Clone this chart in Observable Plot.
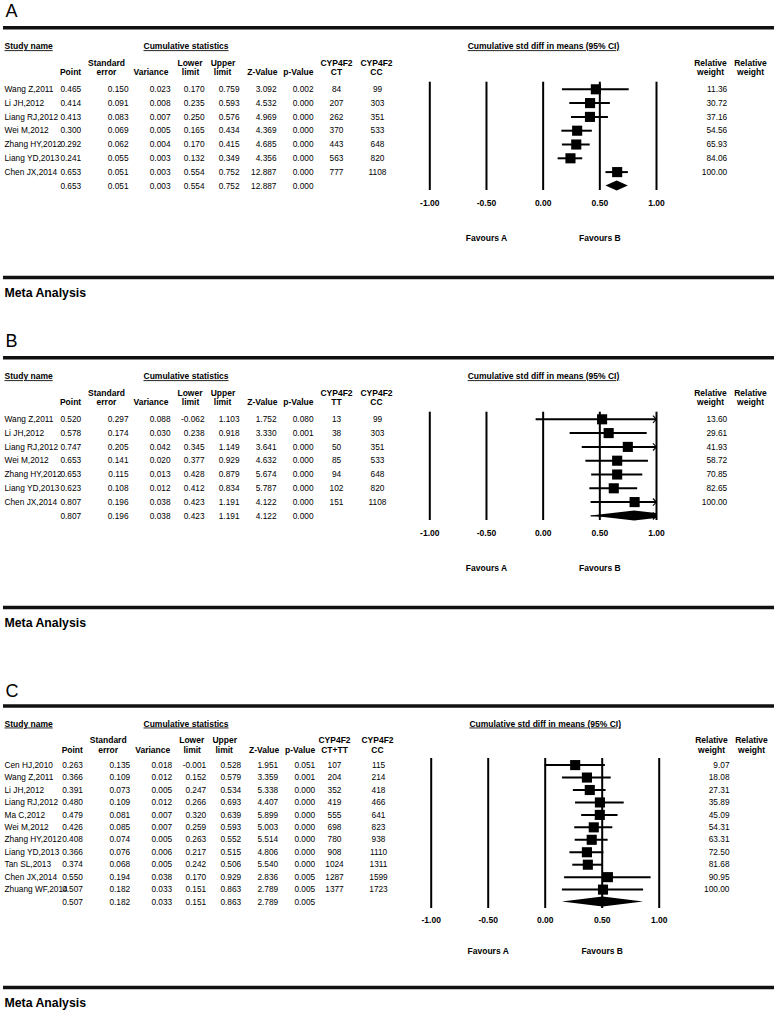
<!DOCTYPE html>
<html><head><meta charset="utf-8">
<script src="https://cdn.jsdelivr.net/npm/d3@7"></script>
<script src="https://cdn.jsdelivr.net/npm/@observablehq/plot@0.6"></script>
<style>
body{margin:0;background:#fff;}
#chart svg{display:block;}
</style></head><body><div id="chart"></div>
<script>
// ---------- DATA ----------
const studiesAB = ["Wang Z,2011","Li JH,2012","Liang RJ,2012","Wei M,2012","Zhang HY,2012","Liang YD,2013","Chen JX,2014"];

const pointA = [0.465,0.414,0.413,0.300,0.292,0.241,0.653];
const seA = [0.150,0.091,0.083,0.069,0.062,0.055,0.051];
const varA = [0.023,0.008,0.007,0.005,0.004,0.003,0.003];
const lowerA = [0.170,0.235,0.250,0.165,0.170,0.132,0.554];
const upperA = [0.759,0.593,0.576,0.434,0.415,0.349,0.752];
const zA = [3.092,4.532,4.969,4.369,4.685,4.356,12.887];
const pA = [0.002,0.000,0.000,0.000,0.000,0.000,0.000];
const ctA = [84,207,262,370,443,563,777];
const ccA = [99,303,351,533,648,820,1108];
const weightA = [11.36,30.72,37.16,54.56,65.93,84.06,100.00];
const summaryA = [0.653,0.051,0.003,0.554,0.752,12.887,0.000];

const pointB = [0.520,0.578,0.747,0.653,0.653,0.623,0.807];
const seB = [0.297,0.174,0.205,0.141,0.115,0.108,0.196];
const varB = [0.088,0.030,0.042,0.020,0.013,0.012,0.038];
const lowerB = [-0.062,0.238,0.345,0.377,0.428,0.412,0.423];
const upperB = [1.103,0.918,1.149,0.929,0.879,0.834,1.191];
const zB = [1.752,3.330,3.641,4.632,5.674,5.787,4.122];
const pB = [0.080,0.001,0.000,0.000,0.000,0.000,0.000];
const ttB = [13,38,50,85,94,102,151];
const ccB = [99,303,351,533,648,820,1108];
const weightB = [13.60,29.61,41.93,58.72,70.85,82.65,100.00];
const summaryB = [0.807,0.196,0.038,0.423,1.191,4.122,0.000];

const studiesC = ["Cen HJ,2010","Wang Z,2011","Li JH,2012","Liang RJ,2012","Ma C,2012","Wei M,2012","Zhang HY,2012","Liang YD,2013","Tan SL,2013","Chen JX,2014","Zhuang WF,2014"];
const pointC = [0.263,0.366,0.391,0.480,0.479,0.426,0.408,0.366,0.374,0.550,0.507];
const seC = [0.135,0.109,0.073,0.109,0.081,0.085,0.074,0.076,0.068,0.194,0.182];
const varC = [0.018,0.012,0.005,0.012,0.007,0.007,0.005,0.006,0.005,0.038,0.033];
const lowerC = [-0.001,0.152,0.247,0.266,0.320,0.259,0.263,0.217,0.242,0.170,0.151];
const upperC = [0.528,0.579,0.534,0.693,0.639,0.593,0.552,0.515,0.506,0.929,0.863];
const zC = [1.951,3.359,5.338,4.407,5.899,5.003,5.514,4.806,5.540,2.836,2.789];
const pC = [0.051,0.001,0.000,0.000,0.000,0.000,0.000,0.000,0.000,0.005,0.005];
const ctttC = [107,204,352,419,555,698,780,908,1024,1287,1377];
const ccC = [115,214,418,466,641,823,938,1110,1311,1599,1723];
const weightC = [9.07,18.08,27.31,35.89,45.09,54.31,63.31,72.50,81.68,90.95,100.00];
const summaryC = [0.507,0.182,0.033,0.151,0.863,2.789,0.005];

const axisTicks = [-1, -0.5, 0, 0.5, 1];
const favours = [{label: "Favours A", x: -0.5}, {label: "Favours B", x: 0.5}];

// ---------- LAYOUT ----------
const FONT = "'Liberation Sans', Arial, Helvetica, sans-serif";
const FS = 8.3;
const FSB = 8.5;
const layoutAB = {height:330, letterY:11, ruleY:27.3, headY:46, h1Y:62.3, h2Y:71.7, row0:88.8, rowStep:13.8,
  lineTop:81.7, lineBottom:190, tickY:203, favY:238, metaRuleY:277, metaY:293,
  xLeft:429.3, xRight:656, colShift:0, ctX:336, ccX:377, weightX:726.7, relX1:710, relX2:750, forestHeadX:543};
const layoutC = {height:351, letterY:30.5, ruleY:45.5, headY:63.3, h1Y:79.3, h2Y:89.3, row0:104.6, rowStep:12.45,
  lineTop:98, lineBottom:248, tickY:260, favY:290.7, metaRuleY:327, metaY:343,
  xLeft:430.7, xRight:658.7, colShift:1.7, ctX:334, ccX:378, weightX:729, relX1:711, relX2:751, forestHeadX:544.7};

const chevron = {draw(ctx, size) { const s = Math.sqrt(size / Math.PI); ctx.moveTo(-s, -s); ctx.lineTo(0, 0); ctx.lineTo(-s, s); }};

function panel(d, L) {
  const px = p => -1 + 2 * (p - L.xLeft) / (L.xRight - L.xLeft);
  const py = p => (p - L.row0) / L.rowStep;
  const n = d.names.length;
  const rows = d.names.map((name, i) => ({row: i, name, point: d.point[i], se: d.se[i], variance: d.variance[i],
    lower: d.lower[i], upper: d.upper[i], z: d.z[i], p: d.p[i], n1: d.n1[i], n2: d.n2[i], weight: d.weight[i]}));
  const s = d.summary;
  const sumRow = {row: n, name: "", point: s[0], se: s[1], variance: s[2], lower: s[3], upper: s[4], z: s[5], p: s[6], n1: null, n2: null, weight: null};
  const table = [...rows, sumRow];
  const f3 = v => v == null ? "" : v.toFixed(3);
  const f2 = v => v == null ? "" : v.toFixed(2);
  const fi = v => v == null ? "" : String(v);
  const cs = L.colShift;
  const cols = [
    {key: "name", at: 4, anchor: "start", fmt: v => v},
    {key: "point", at: 80.7 + cs, anchor: "end", fmt: f3},
    {key: "se", at: 128 + cs, anchor: "end", fmt: f3},
    {key: "variance", at: 170 + cs, anchor: "end", fmt: f3},
    {key: "lower", at: 204 + cs, anchor: "end", fmt: f3},
    {key: "upper", at: 239 + cs, anchor: "end", fmt: f3},
    {key: "z", at: 276 + cs, anchor: "end", fmt: f3},
    {key: "p", at: 313 + cs, anchor: "end", fmt: f3},
    {key: "n1", at: L.ctX, anchor: "middle", fmt: fi},
    {key: "n2", at: L.ccX, anchor: "middle", fmt: fi},
    {key: "weight", at: L.weightX, anchor: "end", fmt: f2}
  ];
  const head1 = [
    {t: "Standard", at: 106 + cs, a: "middle"}, {t: "Lower", at: 189.5 + cs, a: "middle"}, {t: "Upper", at: 222.5 + cs, a: "middle"},
    {t: "CYP4F2", at: L.ctX, a: "middle"}, {t: "CYP4F2", at: L.ccX - 1, a: "middle"},
    {t: "Relative", at: L.relX1, a: "middle"}, {t: "Relative", at: L.relX2, a: "middle"}
  ];
  const head2 = [
    {t: "Point", at: 80.7 + cs, a: "end"}, {t: "error", at: 106 + cs, a: "middle"}, {t: "Variance", at: 168 + cs, a: "end"},
    {t: "limit", at: 190 + cs, a: "middle"}, {t: "limit", at: 222 + cs, a: "middle"},
    {t: "Z-Value", at: 277 + cs, a: "end"}, {t: "p-Value", at: 313 + cs, a: "end"},
    {t: d.n1Label, at: L.ctX, a: "middle"}, {t: "CC", at: L.ccX - 1, a: "middle"},
    {t: "weight", at: L.relX1, a: "middle"}, {t: "weight", at: L.relX2, a: "middle"}
  ];
  const topHead = [
    {t: "Study name", at: 4, a: "start"}, {t: "Cumulative statistics", at: 143, a: "start"},
    {t: "Cumulative std diff in means (95% CI)", at: L.forestHeadX, a: "middle"}
  ];
  const headMarks = (arr, yPx) => ["start", "middle", "end"].map(a =>
    Plot.text(arr.filter(h => h.a === a), {x: h => px(h.at), y: () => py(yPx), text: "t", textAnchor: a, fontWeight: "bold", fontSize: FSB}));

  const halfH = 5 / L.rowStep;
  const hiC = Math.min(s[4], 1);
  const hEnd = s[4] > 1 ? halfH * (s[4] - 1) / (s[4] - s[0]) : 0;
  const diamond = [
    {x: s[3], y1: n, y2: n},
    {x: s[0], y1: n - halfH, y2: n + halfH},
    {x: hiC, y1: n - hEnd, y2: n + hEnd}
  ];
  const arrows = [...rows.filter(r => r.upper > 1), ...(s[4] > 1 ? [sumRow] : [])];

  const marks = [
    Plot.text([d.letter], {x: () => px(5), y: () => py(L.letterY), text: t => t, textAnchor: "start", fontSize: 18, fontWeight: 300}),
    Plot.ruleY([py(L.ruleY)], {x1: () => px(3), x2: () => px(774), strokeWidth: 3.4, stroke: "#111"}),
    ...headMarks(topHead, L.headY),
    ...headMarks(head1, L.h1Y),
    ...headMarks(head2, L.h2Y),
    ...cols.map(c => Plot.text(table, {x: () => px(c.at), y: "row", text: r => c.fmt(r[c.key]), textAnchor: c.anchor, fontSize: FS})),
    Plot.ruleX(axisTicks, {x: t => t, y1: () => py(L.lineTop), y2: () => py(L.lineBottom), strokeWidth: 2}),
    Plot.ruleY(rows, {y: "row", x1: r => Math.max(r.lower, -1), x2: r => Math.min(r.upper, 1), strokeWidth: 2}),
    Plot.ruleY([sumRow].filter(r => r.upper > 1), {y: "row", x1: r => r.lower, x2: () => 1, strokeWidth: 1.2}),
    Plot.dot(rows, {x: "point", y: "row", symbol: "square", r: 5.7, fill: "black", stroke: "none"}),
    Plot.areaY(diamond, {x: "x", y1: "y1", y2: "y2", fill: "black"}),
    Plot.dot(arrows, {x: () => 1, y: "row", symbol: chevron, r: 3.6, stroke: "black", fill: "none", strokeWidth: 1.1}),
    Plot.text(axisTicks, {x: t => t, y: () => py(L.tickY), text: t => t.toFixed(2), fontWeight: "bold", fontSize: FSB}),
    Plot.text(favours, {x: "x", y: () => py(L.favY), text: "label", fontWeight: "bold", fontSize: FSB}),
    Plot.ruleY([py(L.metaRuleY)], {x1: () => px(3), x2: () => px(774), strokeWidth: 3.4, stroke: "#111"}),
    Plot.text(["Meta Analysis"], {x: () => px(4), y: () => py(L.metaY), text: t => t, textAnchor: "start", fontWeight: "bold", fontSize: 12.3})
  ];

  const svg = Plot.plot({
    width: 776, height: L.height, margin: 0,
    x: {domain: [-1, 1], range: [L.xLeft, L.xRight], axis: null},
    y: {domain: [0, 1], range: [L.row0, L.row0 + L.rowStep], axis: null},
    style: {fontFamily: FONT, background: "white", color: "black", overflow: "visible"},
    marks
  });
  const underlined = ["Study name", "Cumulative statistics", "Cumulative std diff in means (95% CI)"];
  d3.select(svg).selectAll("text").filter(function () { return underlined.includes(this.textContent); })
    .style("text-decoration", "underline").style("text-decoration-color", "#999");
  return svg;
}

const chart = document.getElementById("chart");
chart.append(panel({letter: "A", names: studiesAB, point: pointA, se: seA, variance: varA, lower: lowerA, upper: upperA, z: zA, p: pA,
  n1: ctA, n2: ccA, weight: weightA, summary: summaryA, n1Label: "CT"}, layoutAB));
chart.append(panel({letter: "B", names: studiesAB, point: pointB, se: seB, variance: varB, lower: lowerB, upper: upperB, z: zB, p: pB,
  n1: ttB, n2: ccB, weight: weightB, summary: summaryB, n1Label: "TT"}, layoutAB));
chart.append(panel({letter: "C", names: studiesC, point: pointC, se: seC, variance: varC, lower: lowerC, upper: upperC, z: zC, p: pC,
  n1: ctttC, n2: ccC, weight: weightC, summary: summaryC, n1Label: "CT+TT"}, layoutC));
</script>
</body></html>
